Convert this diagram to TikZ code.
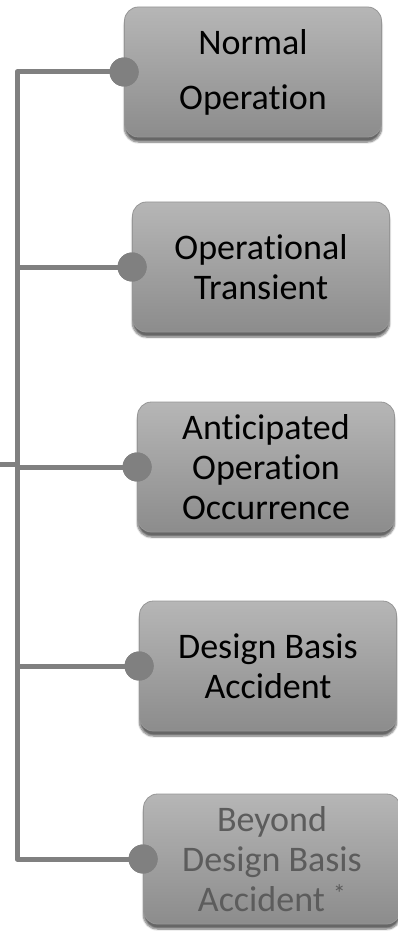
\documentclass[tikz,border=0pt]{standalone}
\usepackage{fontspec}
\setmainfont[Ligatures=NoCommon]{Carlito}
\usetikzlibrary{shadows.blur}
\definecolor{wirecol}{RGB}{128,128,128}
\definecolor{boxtop}{RGB}{182,182,182}
\definecolor{boxbot}{RGB}{140,140,140}
\definecolor{boxedge}{RGB}{150,150,150}
\definecolor{fadedtext}{RGB}{92,92,92}
\begin{document}
\begin{tikzpicture}[x=1pt, y=-1pt, line join=round, line cap=round,
  box/.style={rounded corners=14pt, top color=boxtop, bottom color=boxbot, draw=boxedge, line width=0.8pt,
    minimum width=257pt, minimum height=130pt, align=center, font=\fontsize{36}{40}\selectfont,
    blur shadow={shadow xshift=0pt, shadow yshift=-5pt, shadow blur steps=8, shadow opacity=60}},
  dot/.style={circle, fill=wirecol, minimum size=29pt, inner sep=0pt},
  wire/.style={draw=wirecol, line width=5pt, line cap=butt}]
\def\sx{17}
\useasboundingbox (0,0) rectangle (398,933);
% the five classes of plant states
\node[box] (norm) at (253,72) {Normal\\[15pt]Operation};
\node[box] (trans) at (261,267) {Operational\\Transient};
\node[box] (aoo) at (266,467) {Anticipated\\Operation\\Occurrence};
\node[box] (dba) at (268,666) {Design Basis\\Accident};
\node[box, text=fadedtext] (bdba) at (272,859) {Beyond\\Design Basis\\Accident \textsuperscript{*}};
% joints on the left edge of each box
\coordinate (spine) at (\sx,0);
\coordinate (in) at (0,464);
\node[dot] (d1) at (norm.west) {};
\node[dot] (d2) at (trans.west) {};
\node[dot] (d3) at (aoo.west) {};
\node[dot] (d4) at (dba.west) {};
\node[dot] (d5) at (bdba.west) {};
\draw[wire] (d1.center) -- (d1 -| spine) -- (d5 -| spine) -- (d5.center);
\foreach \n in {d2,d3,d4} \draw[wire] (\n -| spine) -- (\n.center);
\draw[wire] (in) -- (in -| spine);
% redraw the joints over the wires
\foreach \n in {d1,d2,d3,d4,d5} \fill[wirecol] (\n) circle (14.5);
\end{tikzpicture}
\end{document}
